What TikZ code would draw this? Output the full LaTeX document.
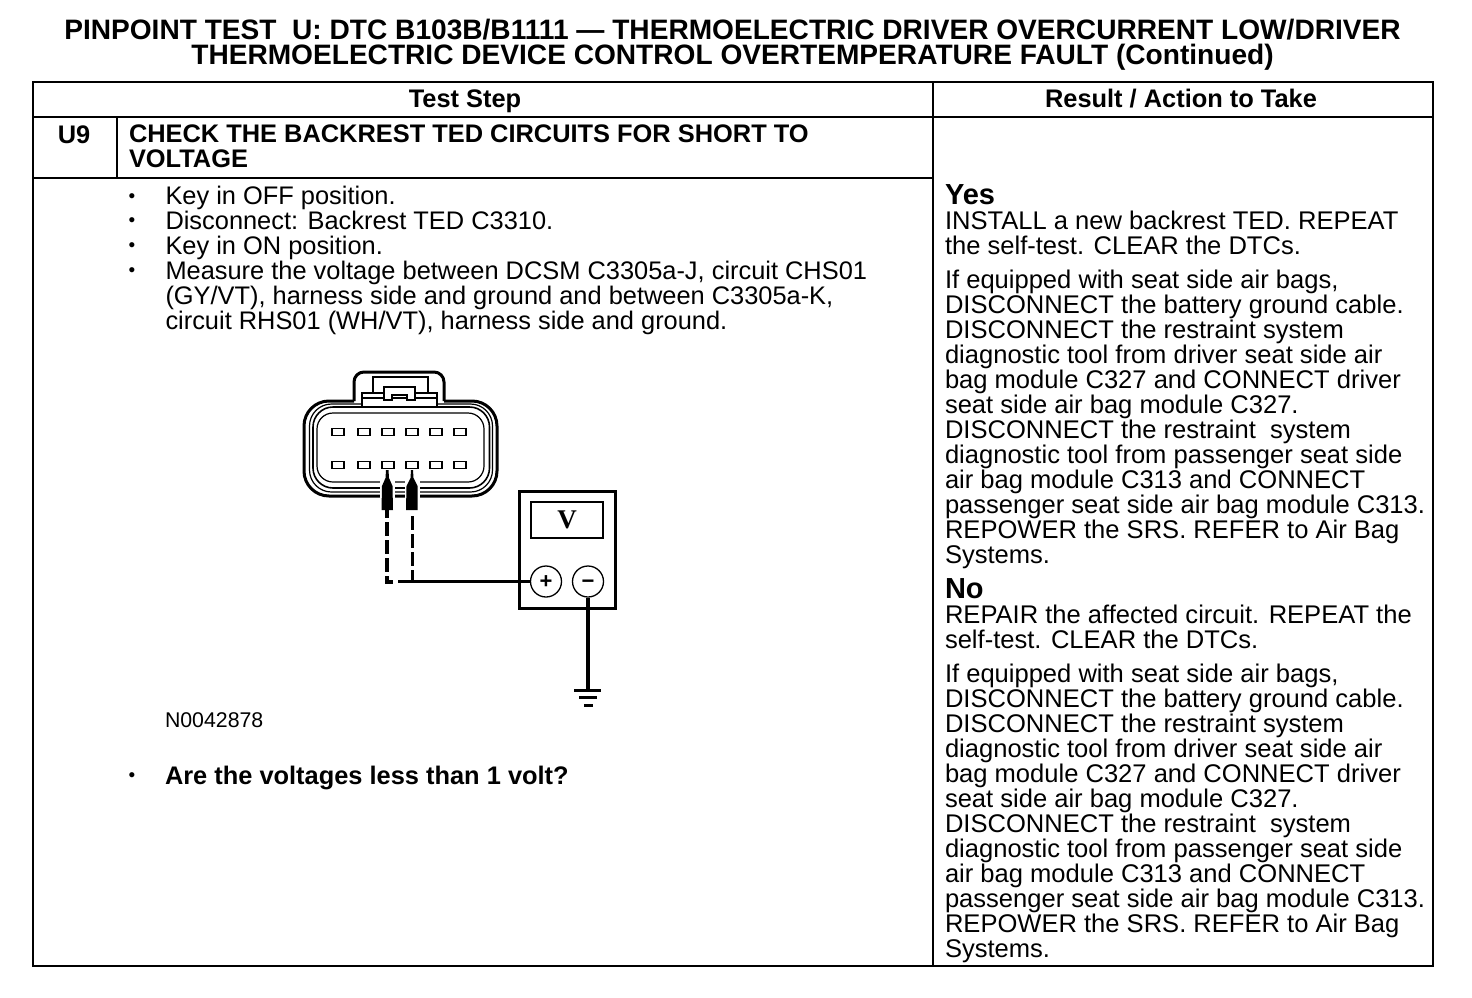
\documentclass[tikz,border=0pt]{standalone}
\usepackage{fontspec}
\setmainfont{Liberation Sans}
\newfontfamily\meterfont{Liberation Serif}
\tikzset{
  txt/.style={inner sep=0pt,outer sep=0pt,anchor=north west,align=left,font=\fontsize{25.4}{25}\selectfont},
  txtr/.style={txt,font=\fontsize{25.55}{25}\selectfont},
  txtb/.style={txt,font=\fontsize{25.4}{25}\selectfont\bfseries},
  head/.style={inner sep=0pt,outer sep=0pt,align=center,font=\fontsize{25.4}{25}\selectfont\bfseries},
  bul/.style={inner sep=0pt,outer sep=0pt,font=\fontsize{19}{19}\selectfont},
  pin/.style={draw,line width=1.8pt,minimum width=11.5pt,minimum height=7pt,inner sep=0pt},
  jack/.style={draw,circle,fill=white,line width=1.3pt,minimum size=31pt,inner sep=0pt,text height=14pt,text depth=0pt,font=\fontsize{22}{22}\selectfont\bfseries},
  rule/.style={line width=1.8pt},
  lead/.style={line width=3.4pt},
  gndbar/.style={line width=3pt}
}
\begin{document}
\begin{tikzpicture}[x=1pt,y=-1pt]
	\useasboundingbox (0,0) rectangle (1472,998);

	% title
	\node[head,font=\fontsize{28.1}{25}\selectfont\bfseries] (title) at (732.5,45) {PINPOINT TEST\ \ U: DTC B103B/B1111 — THERMOELECTRIC DRIVER OVERCURRENT LOW/DRIVER\\THERMOELECTRIC DEVICE CONTROL OVERTEMPERATURE FAULT (Continued)};

	% table
	\draw[rule] (33,82) rectangle (1433,966);
	\draw[rule] (33,117) -- (1433,117);
	\draw[rule] (933,82) -- (933,966);
	\draw[rule] (117,117) -- (117,178);
	\draw[line width=2.6pt] (33,178) -- (933,178);

	\node[head,anchor=base] (teststep) at (465,107) {Test Step};
	\node[head,anchor=base] (result) at (1181,107) {Result / Action to Take};
	\node[head,anchor=base] (stepno) at (74,143) {U9};
	\node[txtb] (steptitle) at (129,125) {CHECK THE BACKREST TED CIRCUITS FOR SHORT TO\\VOLTAGE};

	% bullets
	\foreach \y/\n in {198/a,222/b,247/c,272/d,777/e}
		\node[bul] (bul\n) at (132,\y) {•};
	\node[txt] (steps) at (165.5,186) {Key in OFF position.\\Disconnect: Backrest TED C3310.\\Key in ON position.\\Measure the voltage between DCSM C3305a-J, circuit CHS01\\(GY/VT), harness side and ground and between C3305a-K,\\circuit RHS01 (WH/VT), harness side and ground.};
	\node[txt,font=\fontsize{21.3}{22}\selectfont] (partno) at (165,713) {N0042878};
	\node[txtb] (question) at (165,766) {Are the voltages less than 1 volt?};

	% connector
	\draw[line width=3pt,rounded corners=10pt] (354,401) -- (354,372) -- (444,372) -- (444,401);
	\draw[line width=3pt,rounded corners=25pt] (354,401) -- (304,401) -- (304,496) -- (497,496) -- (497,401) -- (444,401);
	\draw[line width=1.2pt,rounded corners=22pt] (309.5,404) rectangle (492.5,492);
	\draw[line width=1.5pt,fill=white] (362,407) -- (362,393) -- (437,393) -- (437,407);
	\draw[line width=1.6pt,rounded corners=20pt] (313,407) rectangle (489.5,488);
	\draw[line width=1.2pt,rounded corners=16pt] (317,413) rectangle (484,482);
	\draw[line width=1.5pt] (373,393) -- (373,377) -- (428,377) -- (428,393);
	\draw[line width=2.4pt] (362,398) -- (437,398);
	\draw[line width=2pt,fill=white] (384,393) -- (384,387) -- (415,387) -- (415,400) -- (407,400) -- (407,395) -- (392,395) -- (392,400) -- (384,400) -- cycle;
	\foreach \i/\x in {1/338,2/364,3/388,4/412,5/436,6/460} {
		\node[pin] (pt\i) at (\x,432) {};
		\node[pin] (pb\i) at (\x,465) {};
	}

	% probes
	\fill[white] (379.5,480) rectangle (394.5,500);
	\fill[white] (404.5,480) rectangle (419.5,500);
	\fill (386,470) -- (388.5,470) -- (389,478) -- (392.5,486) -- (393,510) -- (381.5,510) -- (382,486) -- (385.5,478) -- cycle;
	\fill (411,470) -- (413,470) -- (413.5,478) -- (417.5,486) -- (417.5,510) -- (406,510) -- (406.5,486) -- (410.5,478) -- cycle;
	\coordinate (probea) at (387,504);
	\coordinate (probeb) at (412,516);
	\coordinate (joina) at (387,581.5);
	\coordinate (joinb) at (412,581.5);
	\coordinate (stub) at (393,581.5);
	\coordinate (wirestart) at (398,581.5);

	% meter
	\draw[line width=3.8pt] (519.5,491.5) rectangle (615.5,608.5);
	\node[draw,line width=1.2pt,minimum width=72pt,minimum height=36pt,inner sep=0pt,font=\fontsize{27}{27}\selectfont\bfseries\meterfont] (display) at (567,520) {V};
	\node[jack] (plus) at (546,581.5) {+};
	\node[jack] (minus) at (588,581.5) {−};

	% leads
	\draw[lead,dash pattern=on 14pt off 4pt,line width=4pt] (probea) -- (joina) -- (stub);
	\draw[lead,dash pattern=on 14pt off 4pt,line width=3pt] (probeb) -- (joinb);
	\draw[lead] (wirestart) -- (plus);
	\coordinate (gnd) at (588,690);
	\draw[lead,line width=4pt] (minus) -- (gnd);
	\draw[gndbar] (574,690) -- (601,690);
	\draw[gndbar] (579,697.5) -- (597,697.5);
	\draw[gndbar] (584,705) -- (593,705);

	% right column
	\node[txtb,font=\fontsize{29}{27}\selectfont\bfseries] (yes) at (945,185) {Yes};
	\node[txtr] (yesa) at (945,210.5) {INSTALL a new backrest TED. REPEAT\\the self-test. CLEAR the DTCs.};
	\node[txtr] (yesb) at (945,269.5) {If equipped with seat side air bags,\\DISCONNECT the battery ground cable.\\DISCONNECT the restraint system\\diagnostic tool from driver seat side air\\bag module C327 and CONNECT driver\\seat side air bag module C327.\\DISCONNECT the restraint\ \ system\\diagnostic tool from passenger seat side\\air bag module C313 and CONNECT\\passenger seat side air bag module C313.\\REPOWER the SRS. REFER to Air Bag\\Systems.};
	\node[txtb,font=\fontsize{29}{27}\selectfont\bfseries] (no) at (945,579) {No};
	\node[txtr] (noa) at (945,604.5) {REPAIR the affected circuit. REPEAT the\\self-test. CLEAR the DTCs.};
	\node[txtr] (nob) at (945,663.5) {If equipped with seat side air bags,\\DISCONNECT the battery ground cable.\\DISCONNECT the restraint system\\diagnostic tool from driver seat side air\\bag module C327 and CONNECT driver\\seat side air bag module C327.\\DISCONNECT the restraint\ \ system\\diagnostic tool from passenger seat side\\air bag module C313 and CONNECT\\passenger seat side air bag module C313.\\REPOWER the SRS. REFER to Air Bag\\Systems.};
\end{tikzpicture}
\end{document}
